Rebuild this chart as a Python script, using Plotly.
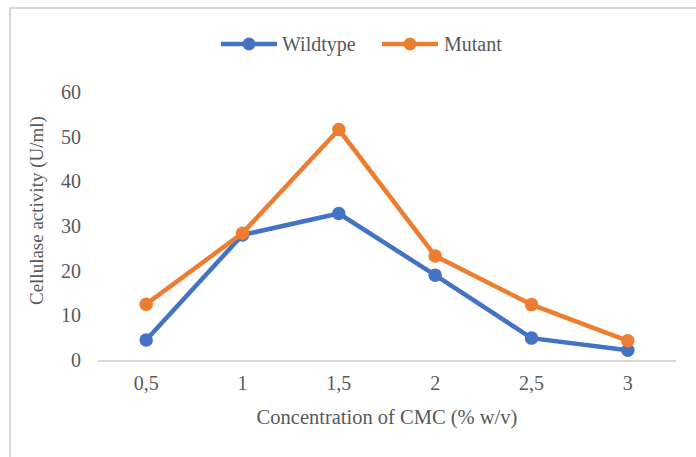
import plotly.graph_objects as go

categories = ["0,5", "1", "1,5", "2", "2,5", "3"]
wildtype = [4.5, 28.0, 32.8, 19.0, 4.9, 2.2]
mutant = [12.5, 28.4, 51.6, 23.3, 12.4, 4.3]
series_names = ["Wildtype", "Mutant"]
colors = ["#4472C4", "#ED7D31"]

font_family = "Liberation Serif, Times New Roman, serif"
gray = "#595959"
fs = 20

fig = go.Figure()
for name, vals, c in zip(series_names, [wildtype, mutant], colors):
    fig.add_trace(go.Scatter(x=categories, y=vals, name=name, mode="lines+markers",
                             line=dict(color=c, width=4.5), marker=dict(size=13.5, color=c),
                             showlegend=False))

# custom legend (long line samples like the original)
shapes = [dict(type="rect", xref="paper", yref="paper", x0=-0.1522, y0=-2, x1=2, y1=1.3134,
               line=dict(color="#D9D9D9", width=2), fillcolor="rgba(0,0,0,0)", layer="below")]
annotations = []
leg_y = 1.179
leg_items = [(0.2128, 0.3097, 0.3149), (0.4913, 0.5882, 0.5952)]
for (x0, x1, xt), name, c in zip(leg_items, series_names, colors):
    shapes.append(dict(type="line", xref="paper", yref="paper", x0=x0, x1=x1, y0=leg_y, y1=leg_y,
                       line=dict(color=c, width=4.5), layer="above"))
    xc = (x0 + x1) / 2
    shapes.append(dict(type="circle", xref="paper", yref="paper",
                       x0=xc - 0.0112, x1=xc + 0.0112, y0=leg_y - 0.0242, y1=leg_y + 0.0242,
                       line=dict(color=c, width=0), fillcolor=c, layer="above"))
    annotations.append(dict(xref="paper", yref="paper", x=xt, y=leg_y, xanchor="left", yanchor="middle",
                            text=name, showarrow=False, font=dict(size=fs, color=gray, family=font_family)))

# y-axis title (placed slightly above the plot's centre, as in the original)
annotations.append(dict(xref="paper", yref="paper", x=-0.1055, y=0.556, xanchor="center", yanchor="middle",
                        text="Cellulase activity (U/ml)", textangle=-90, showarrow=False,
                        font=dict(size=19, color=gray, family=font_family)))

fig.update_layout(
    width=696, height=457,
    margin=dict(l=98, r=20, t=92, b=97, autoexpand=False),
    paper_bgcolor="white", plot_bgcolor="white",
    font=dict(family=font_family, size=fs, color=gray),
    showlegend=False,
    xaxis=dict(type="category", showgrid=False, showline=True, linecolor="#D9D9D9", linewidth=1.5,
               ticks="", tickfont=dict(size=fs, color=gray), ticklabelstandoff=4,
               title=dict(text="Concentration of CMC (% w/v)", font=dict(size=20.5, color=gray), standoff=17),
               range=[-0.5, 5.5]),
    yaxis=dict(range=[0, 60], dtick=10, showgrid=False, zeroline=False, showline=False,
               ticks="", tickfont=dict(size=fs, color=gray), ticklabelstandoff=16),
    shapes=shapes,
    annotations=annotations,
)

fig.write_html("out.html")
